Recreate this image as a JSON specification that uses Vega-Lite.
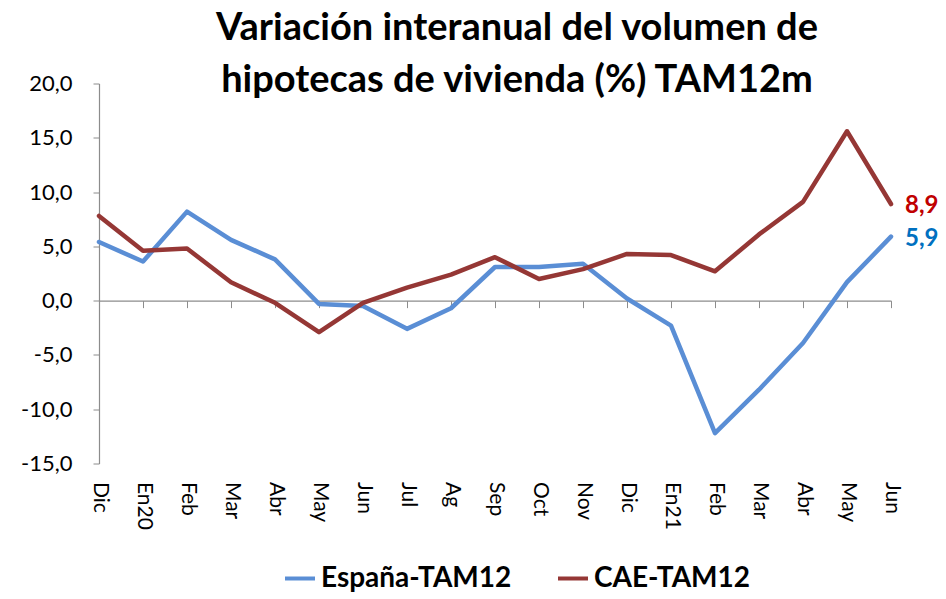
{
  "$schema": "https://vega.github.io/schema/vega-lite/v6.json",
  "autosize": {"type": "none"},
  "width": 792,
  "height": 380,
  "padding": {"left": 99, "top": 83.5, "right": 55, "bottom": 135.5},
  "background": "white",
  "title": {
    "text": ["Variación interanual del volumen de", "hipotecas de vivienda (%) TAM12m"],
    "font": "Lato",
    "fontSize": 38,
    "fontWeight": "bold",
    "color": "black",
    "lineHeight": 52,
    "anchor": "middle",
    "frame": "group",
    "dx": 22,
    "offset": -27
  },
  "config": {
    "locale": {"number": {"decimal": ",", "thousands": ".", "grouping": [3], "currency": ["", " €"], "minus": "-"}},
    "view": {"stroke": null},
    "font": "Lato"
  },
  "data": {
    "values": [
      {"periodo": "Dic-19", "serie": "España-TAM12", "valor": 5.4},
      {"periodo": "En20", "serie": "España-TAM12", "valor": 3.6},
      {"periodo": "Feb-20", "serie": "España-TAM12", "valor": 8.2},
      {"periodo": "Mar-20", "serie": "España-TAM12", "valor": 5.6},
      {"periodo": "Abr-20", "serie": "España-TAM12", "valor": 3.8},
      {"periodo": "May-20", "serie": "España-TAM12", "valor": -0.3},
      {"periodo": "Jun-20", "serie": "España-TAM12", "valor": -0.5},
      {"periodo": "Jul-20", "serie": "España-TAM12", "valor": -2.6},
      {"periodo": "Ag-20", "serie": "España-TAM12", "valor": -0.7},
      {"periodo": "Sep-20", "serie": "España-TAM12", "valor": 3.1},
      {"periodo": "Oct-20", "serie": "España-TAM12", "valor": 3.1},
      {"periodo": "Nov-20", "serie": "España-TAM12", "valor": 3.4},
      {"periodo": "Dic-20", "serie": "España-TAM12", "valor": 0.2},
      {"periodo": "En21", "serie": "España-TAM12", "valor": -2.3},
      {"periodo": "Feb-21", "serie": "España-TAM12", "valor": -12.2},
      {"periodo": "Mar-21", "serie": "España-TAM12", "valor": -8.2},
      {"periodo": "Abr-21", "serie": "España-TAM12", "valor": -3.9},
      {"periodo": "May-21", "serie": "España-TAM12", "valor": 1.7},
      {"periodo": "Jun-21", "serie": "España-TAM12", "valor": 5.9},
      {"periodo": "Dic-19", "serie": "CAE-TAM12", "valor": 7.8},
      {"periodo": "En20", "serie": "CAE-TAM12", "valor": 4.6},
      {"periodo": "Feb-20", "serie": "CAE-TAM12", "valor": 4.8},
      {"periodo": "Mar-20", "serie": "CAE-TAM12", "valor": 1.7},
      {"periodo": "Abr-20", "serie": "CAE-TAM12", "valor": -0.2},
      {"periodo": "May-20", "serie": "CAE-TAM12", "valor": -2.9},
      {"periodo": "Jun-20", "serie": "CAE-TAM12", "valor": -0.2},
      {"periodo": "Jul-20", "serie": "CAE-TAM12", "valor": 1.2},
      {"periodo": "Ag-20", "serie": "CAE-TAM12", "valor": 2.4},
      {"periodo": "Sep-20", "serie": "CAE-TAM12", "valor": 4.0},
      {"periodo": "Oct-20", "serie": "CAE-TAM12", "valor": 2.0},
      {"periodo": "Nov-20", "serie": "CAE-TAM12", "valor": 2.9},
      {"periodo": "Dic-20", "serie": "CAE-TAM12", "valor": 4.3},
      {"periodo": "En21", "serie": "CAE-TAM12", "valor": 4.2},
      {"periodo": "Feb-21", "serie": "CAE-TAM12", "valor": 2.7},
      {"periodo": "Mar-21", "serie": "CAE-TAM12", "valor": 6.1},
      {"periodo": "Abr-21", "serie": "CAE-TAM12", "valor": 9.1},
      {"periodo": "May-21", "serie": "CAE-TAM12", "valor": 15.6},
      {"periodo": "Jun-21", "serie": "CAE-TAM12", "valor": 8.9}
    ]
  },
  "resolve": {"axis": {"x": "independent"}},
  "layer": [
    {
      "mark": {"type": "line", "strokeWidth": 4.5, "strokeJoin": "round", "strokeCap": "round"},
      "encoding": {
        "x": {
          "field": "periodo",
          "type": "ordinal",
          "sort": null,
          "scale": {"type": "point", "padding": 0},
          "axis": {
            "orient": "bottom",
            "title": null,
            "domain": false,
            "ticks": false,
            "labelAngle": 90,
            "labelAlign": "left",
            "labelBaseline": "middle",
            "labelFontSize": 21,
            "labelFont": "Lato",
            "labelColor": "black",
            "labelPadding": 18,
            "labelExpr": "split(datum.value, '-')[0]"
          }
        },
        "y": {
          "field": "valor",
          "type": "quantitative",
          "scale": {"domain": [-15, 20], "nice": false, "zero": false},
          "axis": {
            "title": null,
            "values": [-15, -10, -5, 0, 5, 10, 15, 20],
            "format": ".1f",
            "grid": false,
            "domainColor": "#8c8c8c",
            "domainWidth": 1.2,
            "tickColor": "#8c8c8c",
            "tickSize": 6,
            "labelFontSize": 22,
            "labelFont": "Lato",
            "labelColor": "black",
            "labelPadding": 21
          }
        },
        "color": {
          "field": "serie",
          "type": "nominal",
          "sort": ["España-TAM12", "CAE-TAM12"],
          "scale": {"domain": ["España-TAM12", "CAE-TAM12"], "range": ["#5A8ED5", "#953735"]},
          "legend": {
            "title": null,
            "orient": "none",
            "legendX": 184,
            "legendY": 478,
            "direction": "horizontal",
            "symbolType": "stroke",
            "symbolStrokeWidth": 4,
            "symbolSize": 900,
            "labelFontSize": 28,
            "labelFont": "Lato",
            "labelFontWeight": "bold",
            "labelColor": "black",
            "labelLimit": 400,
            "labelOffset": 4,
            "columnPadding": 38
          }
        }
      }
    },
    {
      "transform": [{"filter": "datum.periodo === 'Jun-21'"}],
      "mark": {"type": "text", "align": "left", "baseline": "middle", "dx": 14, "dy": 2, "fontSize": 24, "fontWeight": "bold", "font": "Lato"},
      "encoding": {
        "x": {
          "field": "periodo",
          "type": "ordinal",
          "sort": null,
          "axis": {
            "orient": "bottom",
            "title": null,
            "offset": -162.86,
            "labels": false,
            "domain": true,
            "domainColor": "#8c8c8c",
            "domainWidth": 1.2,
            "ticks": true,
            "tickColor": "#8c8c8c",
            "tickSize": 7
          }
        },
        "y": {"field": "valor", "type": "quantitative"},
        "text": {"field": "valor", "type": "quantitative", "format": ".1f"},
        "color": {"condition": {"test": "datum.serie === 'CAE-TAM12'", "value": "#C00000"}, "value": "#0070C0"}
      }
    }
  ]
}
